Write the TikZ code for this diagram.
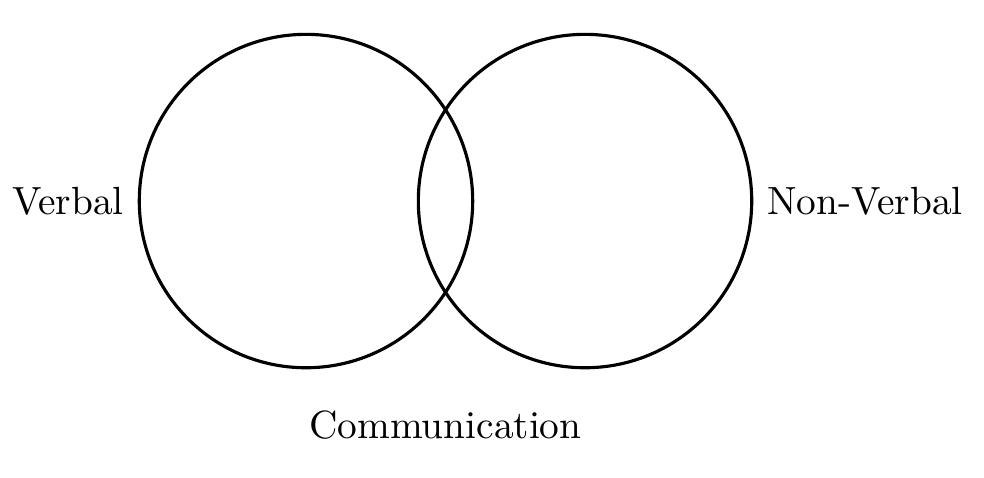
\documentclass[tikz,border=0pt]{standalone}
\usepackage{amsmath}
\usepackage{tikz}
\usetikzlibrary{shapes,calc,positioning}
\tikzset{set/.style={draw, circle, thick, minimum size=2.98cm, inner sep=0pt}}

\begin{document}
\begin{tikzpicture}[node distance=0pt]
\useasboundingbox (-2.735,-2.467) rectangle (6.060,1.797);
\node[set] (V) at (0,0) {};
\node[set] (NV) at (2.494,0) {};
\node[left =of V] (Vl) {Verbal};
\node[right =of NV] (NVl) {Non-Verbal};
\node (C) at ($(V)!0.5!(NV)+(0,-2.00)$) {Communication};
\end{tikzpicture}
\end{document}
